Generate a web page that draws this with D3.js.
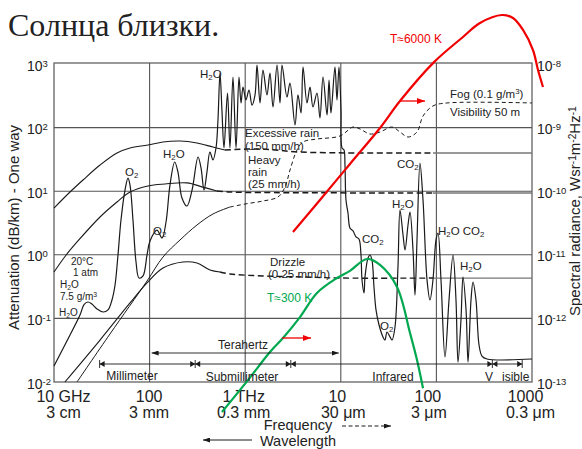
<!DOCTYPE html>
<html><head><meta charset="utf-8">
<script src="https://cdn.jsdelivr.net/npm/d3@7"></script>
<style>
body{margin:0;background:#fff;}
svg{display:block;font-family:"Liberation Sans",Arial,sans-serif;}
</style></head><body>
<svg id="c" width="582" height="449"></svg>
<script>
// ---- Axis ticks (frequency in GHz) ----
const freqTicks = [10, 100, 1000, 10000, 100000, 1000000];
const freqLabels = ["10 GHz", "100", "1 THz", "10", "100", "1000"];
const waveLabels = ["3 cm", "3 mm", "0.3 mm", "30  \u03bcm", "3  \u03bcm", "0.3  \u03bcm"];
const attTicks = [1e-2, 1e-1, 1, 10, 100, 1000];
const attExp = ["-2", "-1", "0", "1", "2", "3"];
const radTicks = [1e-13, 1e-12, 1e-11, 1e-10, 1e-9, 1e-8];
const radExp = ["-13", "-12", "-11", "-10", "-9", "-8"];

// ---- Atmospheric attenuation, 20°C, 1 atm, 7.5 g/m3 water vapour [GHz, dB/km] ----
const atmosphere = [
 [10,0.0179],[14.7,0.0548],[18.7,0.113],[20.6,0.165],[22.7,0.181],[24.9,0.168],[28.2,0.141],[32.6,0.126],
 [36.7,0.136],[40.4,0.195],[43.5,0.335],[46.7,0.993],[50.2,3.52],[55.3,10.4],[59.4,16.1],[62.4,12.5],
 [67,3.52],[72.1,0.771],[77.5,0.431],[85.3,0.465],[94,0.993],[101,1.65],[119.5,2.45],[135,1.84],
 [148.5,3.28],[163.3,12.5],[183,28.8],[198,20],[218,7.82],[246,5.85],[278,10.4],[321,34.5],[345,23.2],
 [371,10.4],[398,20],[428,41.3],[460,31],[495,47.8],[519,132],[545,722],[571,189],[600,47.8],[653,350],
 [693,47.8],[745,625],[802,47.8],[861,625],[904,244],[949,435],[1019,272],[1096,390],[1178,226],
 [1267,326],[1329,964],[1429,244],[1535,805],[1690,326],[1816,722],[1954,211],[2153,964],[2312,244],
 [2427,964],[2736,303],[2942,502],[3319,110],[3565,326],[3837,170],[4027,897],[4430,244],[4764,435],
 [5117,211],[5636,350],[6053,142],[6516,625],[7178,158],[7534,560],[7889,170],[8690,897],[9120,272],
 [9572,897],[10046,189],[10300,47.8],[10800,44.5],[11060,25.8],[11330,7.27],[11890,4.54],[12470,2.64],
 [13430,2.37],[14420,1.91],[15490,1.77],[16260,0.993],[16670,0.402],[17500,0.251],[17910,0.448],
 [19270,0.891],[20200,0.993],[21190,0.828],[22240,0.312],[23350,0.136],[25120,0.0787],[27610,0.0511],
 [28980,0.0457],[30410,0.0611],[32720,0.0511],[34360,0.0457],[36900,0.0733],[39630,0.643],[41600,5.06],
 [44770,2.05],[46970,1.19],[50470,2.94],[52970,4.71],[56920,1.19],[59730,0.233],[62680,1.71],
 [67340,27.7],[72440,7.27],[79800,0.402],[85700,0.195],[92050,0.402],[99080,1.71],[103990,2.2],
 [111700,0.402],[123000,0.0247],[135500,0.195],[149300,0.993],[160300,0.195],[168300,0.0206],
 [180700,0.0944],[189700,0.448],[204200,0.136],[214300,0.0206],[230100,0.195],[241500,0.373],
 [259500,0.195],[279200,0.0382],[299900,0.0256],[338100,0.023],[1000000,0.023]
];

// ---- Rain and fog attenuation [GHz, dB/km]: measured part, extrapolated part, optical tail ----
const excessiveRain = [[10,5.44],[14.7,9.71],[20.1,15],[30.3,25.8],[45.6,39.9],[62.4,47.8],[96.2,53.2],
 [138,59.4],[208,61.6],[313,57.3],[460,49.5],[615,44.5]];
const excessiveRainExt = [[615,44.5],[1429,46.1],[3741,41.3],[15880,39.9],[92050,39.9]];
const excessiveRainTail = [[92050,39.9],[1000000,39.9]];

const heavyRain = [[10,0.537],[13.4,0.993],[17.8,1.65],[30.3,3.93],[45.6,6.76],[62.4,9.71],[96.2,12.1],
 [145,13.0],[246,13.5],[362,11.6],[507,10.1]];
const heavyRainExt = [[507,10.1],[693,9.71],[2000,9.5],[92050,9.37]];
const heavyRainTail = [[92050,9.37],[1000000,9.37]];

const drizzle = [[13,0.01],[30.3,0.0457],[62.4,0.175],[94,0.361],[138,0.619],[223,0.771],[313,0.743],
 [428,0.577],[545,0.537]];
const drizzleExt = [[545,0.537],[693,0.499],[1535,0.465],[4027,0.448],[10046,0.431],[92050,0.431]];
const drizzleTail = [[92050,0.431],[1000000,0.431]];

const fog = [[17.4,0.01],[38.5,0.0569],[94,0.387],[138,0.922],[208,1.71],[313,2.94],[460,4.38],[693,5.64]];
const fogExt = [[693,5.64],[995,6.29],[1535,7.01],[2203,8.11],[2608,11.6],[2942,21.5],[3483,44.5],
 [4027,59.4],[5636,66.2],[9820,73.8],[13430,102],[15880,95.1],[20200,79.3],[25700,85.3],[34360,102],
 [41600,85.3],[50470,71.1],[62680,85.3],[72440,152],[92050,219],[129100,244],[1000000,244]];

// ---- Black-body spectral radiance [GHz, W sr^-1 m^-2 Hz^-1] ----
const sun6000 = [[3162,2.28e-11],[6053,7.27e-11],[12470,2.68e-10],[25700,9.86e-10],[41600,2.62e-9],
 [94410,1.07e-8],[189700,2.66e-8],[285600,4.41e-8],[485300,5.89e-8],[632400,5.28e-8],[805300,3.43e-8],
 [1023000,1.66e-8],[1156000,8.05e-9],[1303000,4.35e-9]];
const earth300 = [[571,3.37e-14],[1069,1.07e-13],[1816,2.96e-13],[2485,4.92e-13],[3741,1.05e-12],
 [5636,2.51e-12],[9120,4.31e-12],[12470,5.6e-12],[18790,8.59e-12],[25700,6.92e-12],[38730,3.12e-12],
 [52970,5.89e-13],[62680,2.22e-13],[72440,8.0e-14]];

// ---- Spectral band edges [GHz] ----
const bandEdges = [30, 300, 3000, 385000, 790000];
const terahertzBand = [100, 10000];

// ---------------------------------------------------------------
const svg = d3.select("#c");
const x = d3.scaleLog().domain([10, 1e6]).range([54, 532]);
const yL = d3.scaleLog().domain([1e-2, 1e3]).range([382, 64]);
const yR = d3.scaleLog().domain([1e-13, 1e-8]).range([382, 64]);
const INK = "#1a1a1a", GRID = "#555";

const defs = svg.append("defs");
function marker(id, color, w, h) {
  defs.append("marker").attr("id", id).attr("viewBox", `0 0 ${w} ${h}`)
    .attr("refX", w).attr("refY", h / 2).attr("markerWidth", w).attr("markerHeight", h)
    .attr("markerUnits", "userSpaceOnUse").attr("orient", "auto-start-reverse")
    .append("path").attr("d", `M0,0L${w},${h / 2}L0,${h}Z`).attr("fill", color);
}
marker("ak", INK, 7, 5);
marker("ar", "#f00000", 8, 6);

// title line
svg.append("text").attr("x", 8).attr("y", 36)
  .attr("font-family", "'Liberation Serif','Times New Roman',serif")
  .attr("font-size", 32).attr("fill", "#222").text("Солнца близки.");

// frame + grid
const plot = svg.append("g");
plot.append("g").selectAll("line").data(attTicks.slice(1, -1)).join("line")
  .attr("x1", 54).attr("x2", 532).attr("y1", d => yL(d)).attr("y2", d => yL(d))
  .attr("stroke", GRID).attr("stroke-width", 1.1);
plot.append("g").selectAll("line").data(freqTicks.slice(1, -1)).join("line")
  .attr("x1", d => x(d)).attr("x2", d => x(d)).attr("y1", 63).attr("y2", 382)
  .attr("stroke", GRID).attr("stroke-width", 1.1);
plot.append("rect").attr("x", 54).attr("y", 63).attr("width", 478).attr("height", 319)
  .attr("fill", "none").attr("stroke", GRID).attr("stroke-width", 1.2);

// text helper: "_2" subscript, "^{-1}" superscript
function label(xp, yp, str, o = {}) {
  const size = o.size || 11.5;
  const t = (o.parent || svg).append("text").attr("x", xp).attr("y", yp)
    .attr("font-size", size).attr("fill", o.fill || "#222")
    .attr("text-anchor", o.anchor || "start");
  if (o.transform) t.attr("transform", o.transform);
  const re = /([_^])(\{[^}]*\}|.)/g;
  let last = 0, m;
  while ((m = re.exec(str))) {
    if (m.index > last) t.append("tspan").text(str.slice(last, m.index));
    t.append("tspan").attr("font-size", size * 0.68)
      .attr("baseline-shift", m[1] === "_" ? "-25%" : "45%")
      .text(m[2].replace(/[{}]/g, ""));
    last = re.lastIndex;
  }
  if (last < str.length) t.append("tspan").text(str.slice(last));
  return t;
}

// axes
const axL = svg.append("g").attr("transform", "translate(54,0)")
  .call(d3.axisLeft(yL).tickValues(attTicks).tickSize(0).tickFormat(() => ""));
axL.select(".domain").remove();
axL.selectAll(".tick").each(function (d, i) {
  const g = d3.select(this); g.select("text").remove();
  label(-27, 6, "10^{" + attExp[i] + "}", { parent: g, size: 14 });
});
const axR = svg.append("g").attr("transform", "translate(532,0)")
  .call(d3.axisRight(yR).tickValues(radTicks).tickSize(0).tickFormat(() => ""));
axR.select(".domain").remove();
axR.selectAll(".tick").each(function (d, i) {
  const g = d3.select(this); g.select("text").remove();
  label(5, 6, "10^{" + radExp[i] + "}", { parent: g, size: 14 });
});
const nudge = [9, -1, -2, -4, -9, -7];
const nudge2 = [9, -1, -2, 2, -8, -2];
const axB = svg.append("g").attr("transform", "translate(0,382)")
  .call(d3.axisBottom(x).tickValues(freqTicks).tickSize(0).tickFormat(() => ""));
axB.select(".domain").remove();
axB.selectAll(".tick").each(function (d, i) {
  const g = d3.select(this); g.select("text").remove();
  g.append("text").attr("x", nudge[i]).attr("y", 20).attr("text-anchor", "middle")
    .attr("font-size", 16).attr("fill", "#222").text(freqLabels[i]);
  g.append("text").attr("x", nudge2[i]).attr("y", 36).attr("text-anchor", "middle")
    .attr("font-size", 16).attr("fill", "#222").text(waveLabels[i]);
});

// axis titles
label(0, 0, "Attenuation (dB/km) - One way", { size: 15, transform: "translate(19,330) rotate(-90)" });
label(0, 0, "Spectral radiance, Wsr^{-1}m^{-2}Hz^{-1}", { size: 15, transform: "translate(580,316) rotate(-90)" });
svg.append("text").attr("x", 298).attr("y", 429.5).attr("text-anchor", "middle")
  .attr("font-size", 14.5).attr("fill", "#222").text("Frequency");
svg.append("text").attr("x", 298).attr("y", 445.5).attr("text-anchor", "middle")
  .attr("font-size", 14.5).attr("fill", "#222").text("Wavelength");
svg.append("line").attr("x1", 342).attr("x2", 391).attr("y1", 426).attr("y2", 426)
  .attr("stroke", INK).attr("stroke-width", 1).attr("stroke-dasharray", "4,2.5").attr("marker-end", "url(#ak)");
svg.append("line").attr("x1", 252).attr("x2", 203).attr("y1", 440).attr("y2", 440)
  .attr("stroke", INK).attr("stroke-width", 1).attr("marker-end", "url(#ak)");

// curves
const lineA = d3.line().x(d => x(d[0])).y(d => yL(d[1])).curve(d3.curveCatmullRom.alpha(0.5));
const lineR = d3.line().x(d => x(d[0])).y(d => yR(d[1])).curve(d3.curveCatmullRom.alpha(0.5));
const curves = svg.append("g").attr("fill", "none");
function draw(data, gen, stroke, w, dash) {
  const p = curves.append("path").datum(data).attr("d", gen)
    .attr("stroke", stroke).attr("stroke-width", w).attr("stroke-linejoin", "round");
  if (dash) p.attr("stroke-dasharray", dash);
  return p;
}
[excessiveRainTail, heavyRainTail, drizzleTail].forEach(d => draw(d, lineA, "#777", 1.3));
draw(excessiveRain, lineA, INK, 1.1);
draw(excessiveRainExt, lineA, INK, 1.5, "6,3.5");
draw(heavyRain, lineA, INK, 1.1);
draw(heavyRainExt, lineA, INK, 1.5, "6,3.5");
draw(drizzle, lineA, INK, 1.1);
draw(drizzleExt, lineA, INK, 1.4, "6,3.5");
draw(fog, lineA, INK, 1.0);
draw(fogExt, lineA, INK, 1.0, "4,3");
draw(atmosphere, lineA, INK, 1.2);
draw(earth300, lineR, "#00a84f", 2.2);
draw(sun6000, lineR, "#f00000", 2.2);

// band intervals
const yb = 364, tri = 5;
const bg = svg.append("g").attr("stroke", INK).attr("fill", INK).attr("stroke-width", 0.9);
bg.append("line").attr("x1", x(bandEdges[0])).attr("x2", x(bandEdges[4])).attr("y1", yb).attr("y2", yb);
bandEdges.forEach((e, i) => {
  const xe = x(e);
  bg.append("line").attr("x1", xe).attr("x2", xe).attr("y1", yb - 4).attr("y2", yb + 4);
  if (i > 0) bg.append("path").attr("d", `M${xe},${yb}L${xe - tri},${yb - 3}L${xe - tri},${yb + 3}Z`).attr("stroke", "none");
  if (i < bandEdges.length - 1) bg.append("path").attr("d", `M${xe},${yb}L${xe + tri},${yb - 3}L${xe + tri},${yb + 3}Z`).attr("stroke", "none");
});
const yt = 353;
bg.append("line").attr("x1", x(terahertzBand[0]) + 2).attr("x2", x(terahertzBand[1]) - 2)
  .attr("y1", yt).attr("y2", yt).attr("marker-end", "url(#ak)").attr("marker-start", "url(#ak)");

// band names
label(132, 380, "Millimeter", { size: 12, anchor: "middle" });
label(242, 381, "Submillimeter", { size: 12, anchor: "middle" });
label(393, 381, "Infrared", { size: 12, anchor: "middle" });
label(485, 381, "V", { size: 12 });
label(502, 381, "isible", { size: 12 });
label(243, 349, "Terahertz", { size: 12, anchor: "middle" });

// red arrows
svg.append("line").attr("x1", 282).attr("x2", 311).attr("y1", 338).attr("y2", 338)
  .attr("stroke", "#f00000").attr("stroke-width", 1.3).attr("marker-end", "url(#ar)");
svg.append("line").attr("x1", 400).attr("x2", 425).attr("y1", 101).attr("y2", 101)
  .attr("stroke", "#f00000").attr("stroke-width", 1.3).attr("marker-end", "url(#ar)");

// annotations
label(390, 43, "T\u22486000 K", { size: 12, fill: "#f00000" });
label(267, 302, "T\u2248300 K", { size: 12, fill: "#00a84f" });
label(125, 176, "O_2");
label(153, 235, "O_2");
label(163, 158, "H_2O");
label(200, 78, "H_2O");
label(397, 168, "CO_2");
label(392, 208, "H_2O");
label(362, 243, "CO_2");
label(380, 330, "O_2");
label(438, 235, "H_2O CO_2");
label(460, 270, "H_2O");
label(71, 265, "20\u00b0C", { size: 10 });
label(73, 275.5, "1 atm", { size: 10 });
label(60, 287.5, "H_2O", { size: 10 });
label(60, 299.5, "7.5 g/m^3", { size: 10 });
label(59, 316, "H_2O", { size: 10 });
label(245, 137, "Excessive rain", { size: 11.5 });
label(245, 150, "(150 mm/h)", { size: 11.5 });
label(248, 164, "Heavy", { size: 11.5 });
label(248, 176, "rain", { size: 11.5 });
label(248, 188, "(25 mm/h)", { size: 11.5 });
label(270, 266, "Drizzle", { size: 11.5 });
label(268, 278, "(0.25 mm/h)", { size: 11.5 });
label(450, 98, "Fog (0.1 g/m^3)", { size: 11.5 });
label(450, 116, "Visibility 50 m", { size: 11.5 });
</script>
</body></html>
